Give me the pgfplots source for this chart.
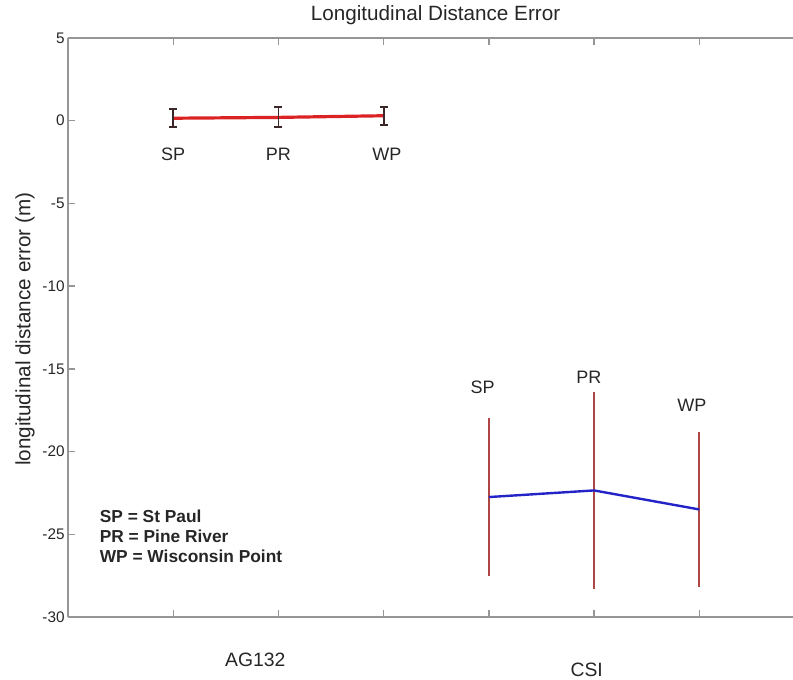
\documentclass[border=0pt]{standalone}
\usepackage{pgfplots}
\pgfplotsset{compat=1.18}
\usepackage{fontspec}
\setmainfont{Liberation Sans}
\definecolor{axgray}{RGB}{150,150,150}
\definecolor{lred}{RGB}{220,35,35}
\definecolor{lblue}{RGB}{35,35,200}
\definecolor{ebred}{RGB}{175,70,70}
\definecolor{ebdark}{RGB}{60,40,40}
\begin{document}
\begin{tikzpicture}
\def\px{0.75pt}
\begin{axis}[
  scale only axis, width=543.75pt, height=434.25pt,
  xmin=0, xmax=6.89, ymin=-30, ymax=5,
  axis x line=box, axis y line=left,
  axis line style={-, axgray, line width=1.1pt},
  xtick pos=both, ytick pos=left, tick align=inside,
  xtick={1,2,3,4,5,6}, xticklabels={},
  ytick={-30,-25,-20,-15,-10,-5,0,5},
  tick style={axgray, line width=1pt}, major tick length=5pt,
  /pgf/number format/assume math mode=true,
  yticklabel style={font=\fontsize{11.5}{13}\selectfont, text=black!85, xshift=1pt},
  clip=false,
]
% CSI error bars
\addplot[draw=none, forget plot,
  error bars/.cd, y dir=both, y explicit,
  error bar style={ebred, line width=1.6pt},
  error mark options={ebred, rotate=90, mark size=0.8pt, line width=1.2pt}]
  coordinates {(4,-22.75) +- (0,4.75) (5,-22.35) +- (0,5.9) (6,-23.5) +- (0,4.65)};
% CSI line
\addplot[lblue, line width=1.8pt, mark=none] coordinates {(4,-22.75) (5,-22.35) (6,-23.5)};
% AG132 line with error bars
\addplot[lred, line width=2.4pt, mark=none,
  error bars/.cd, y dir=both, y explicit,
  error bar style={ebdark, line width=1.4pt},
  error mark options={ebdark, rotate=90, mark size=3pt, line width=1.5pt}]
  coordinates {(1,0.15) +- (0,0.55) (2,0.2) +- (0,0.6) (3,0.3) +- (0,0.55)};
% point labels
\begin{scope}[every node/.style={font=\fontsize{13.5}{15}\selectfont, text=black!85}]
\node at (axis cs:1,-2.05) {SP};
\node at (axis cs:2,-2.05) {PR};
\node at (axis cs:3.03,-2.05) {WP};
\node at (axis cs:3.94,-16.1) {SP};
\node at (axis cs:4.95,-15.5) {PR};
\node at (axis cs:5.93,-17.2) {WP};
\end{scope}
\begin{scope}[every node/.style={font=\fontsize{14.5}{16}\selectfont, text=black!85}]
\node at (axis cs:1.78,-32.6) {AG132};
\node at (axis cs:4.93,-33.2) {CSI};
\end{scope}
\node[anchor=north west, align=left, font=\bfseries\fontsize{13}{15}\selectfont, text=black!85, inner sep=0pt]
  at (axis cs:0.30,-23.5) {SP = St Paul\\PR = Pine River\\WP = Wisconsin Point};
\node[font=\fontsize{15.5}{17}\selectfont, text=black!85] at ([yshift=23*\px]rel axis cs:0.507,1) {Longitudinal Distance Error};
\node[rotate=90, font=\fontsize{15.5}{17}\selectfont, text=black!85] at ([xshift=-43*\px]rel axis cs:0,0.497) {longitudinal distance error (m)};
\end{axis}
\pgfresetboundingbox
\path[use as bounding box] ([shift={(-68*\px,-63*\px)}]current axis.south west) rectangle ([shift={(0pt,38*\px)}]current axis.north east);
\end{tikzpicture}
\end{document}
